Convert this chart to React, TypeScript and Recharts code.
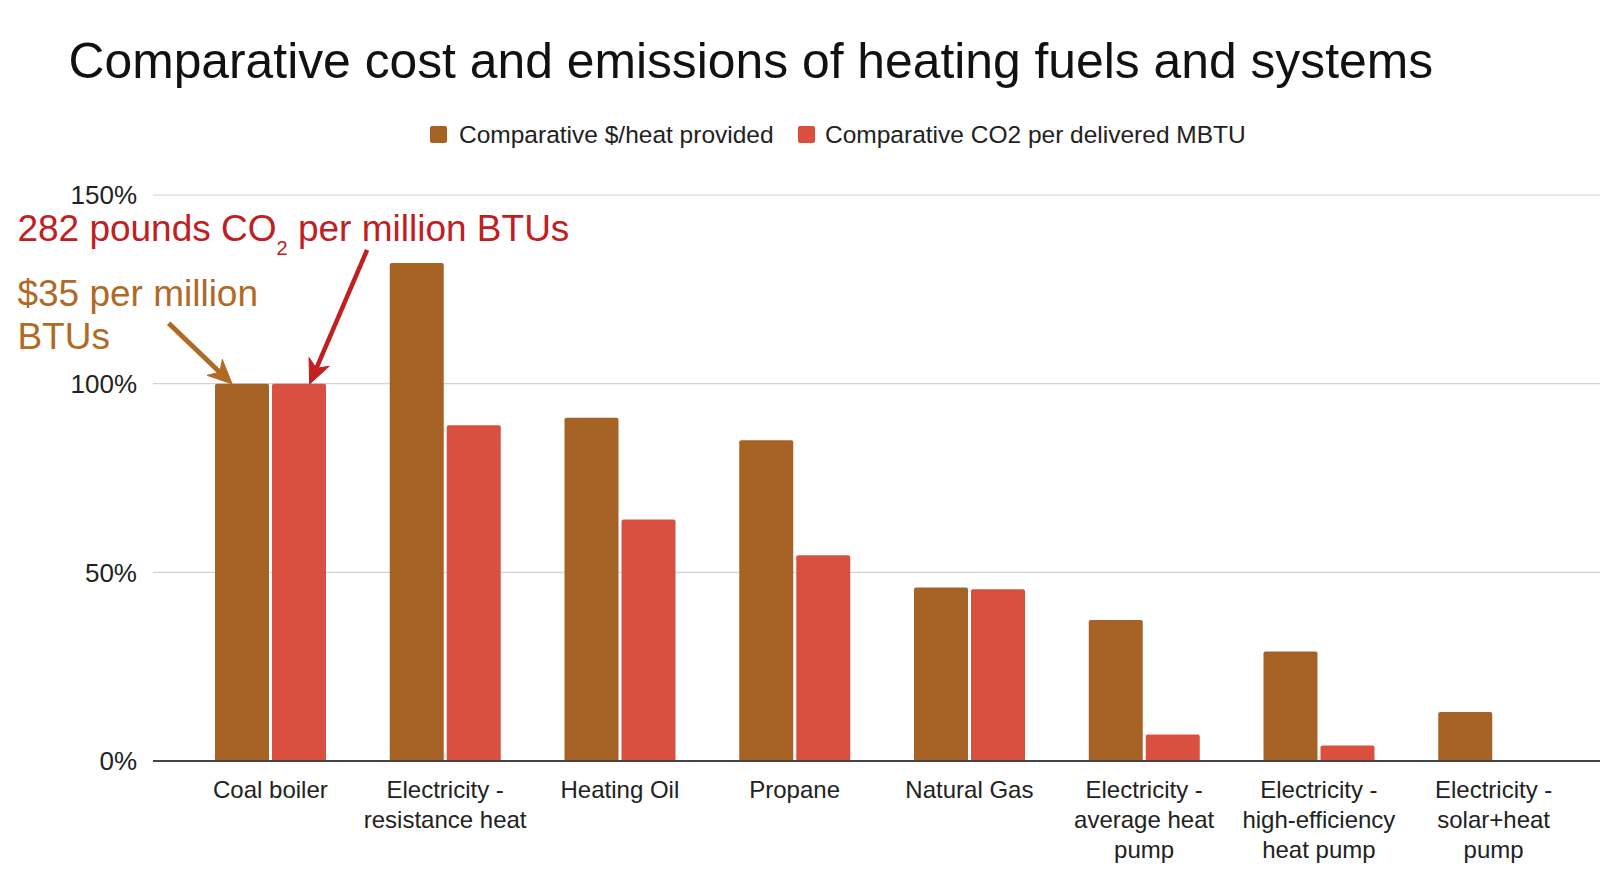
import React from 'react';
import { BarChart, Bar, XAxis, YAxis, CartesianGrid, ReferenceDot } from 'recharts';

const categories = [
  'Coal boiler',
  'Electricity - resistance heat',
  'Heating Oil',
  'Propane',
  'Natural Gas',
  'Electricity - average heat pump',
  'Electricity - high-efficiency heat pump',
  'Electricity - solar+heat pump',
];
const costValues = [1.0, 1.32, 0.91, 0.85, 0.46, 0.374, 0.29, 0.13];
const co2Values = [1.0, 0.89, 0.64, 0.545, 0.455, 0.07, 0.041, 0];
const yTicks = [0, 0.5, 1, 1.5];
const seriesKeys = ['cost', 'co2'];
const seriesNames = ['Comparative $/heat provided', 'Comparative CO2 per delivered MBTU'];
const seriesColors = ['#a66224', '#d95040'];
const titleText = 'Comparative cost and emissions of heating fuels and systems';
const co2Note = ['282 pounds CO', '2', ' per million BTUs'];
const costNote = ['$35 per million', 'BTUs'];
const noteCategory = 'Coal boiler';
const noteValue = 1;

const FONT = '"Liberation Sans", Arial, Helvetica, sans-serif';
const RED_TEXT = '#c0201f';
const BROWN_TEXT = '#b06a26';
const TICK_FONT_SIZE = 24;
const TICK_WRAP_WIDTH = 165;

const data = categories.map((name, i) => ({ name, cost: costValues[i], co2: co2Values[i] }));

let measureCtx: CanvasRenderingContext2D | null = null;
function measure(text: string): number {
  if (!measureCtx) {
    const c = document.createElement('canvas');
    measureCtx = c.getContext('2d');
  }
  if (!measureCtx) return text.length * TICK_FONT_SIZE * 0.5;
  measureCtx.font = `${TICK_FONT_SIZE}px "Liberation Sans", Arial, sans-serif`;
  return measureCtx.measureText(text).width;
}

function wrapLabel(label: string): string[] {
  const words = label.split(' ');
  const lines: string[] = [];
  let cur = '';
  words.forEach((w) => {
    const cand = cur ? `${cur} ${w}` : w;
    if (cur && measure(cand) > TICK_WRAP_WIDTH) {
      lines.push(cur);
      cur = w;
    } else {
      cur = cand;
    }
  });
  if (cur) lines.push(cur);
  return lines;
}

function Arrow({ x1, y1, x2, y2, color, width }: any) {
  const dx = x2 - x1;
  const dy = y2 - y1;
  const len = Math.hypot(dx, dy);
  const ux = dx / len;
  const uy = dy / len;
  const nx = -uy;
  const ny = ux;
  const L = 24;
  const W = 11;
  const N = 7;
  const bx = x2 - L * ux;
  const by = y2 - L * uy;
  const mx = x2 - (L - N) * ux;
  const my = y2 - (L - N) * uy;
  const pts = [
    [x2, y2],
    [bx + W * nx, by + W * ny],
    [mx, my],
    [bx - W * nx, by - W * ny],
  ]
    .map((p) => p.join(','))
    .join(' ');
  return (
    <g>
      <line x1={x1} y1={y1} x2={mx} y2={my} stroke={color} strokeWidth={width} strokeLinecap="butt" />
      <polygon points={pts} fill={color} stroke={color} strokeWidth={1} strokeLinejoin="miter" />
    </g>
  );
}

const Annotation = (props: any) => {
  const { cx, cy } = props;
  if (cx == null || cy == null || isNaN(cx) || isNaN(cy)) return <g />;
  return (
    <g>
      <text x={cx - 253} y={cy - 143} fill={RED_TEXT} fontSize={37} fontFamily={FONT}>
        {co2Note[0]}
        <tspan fontSize={20} dy={14}>{co2Note[1]}</tspan>
        <tspan dy={-14}>{co2Note[2]}</tspan>
      </text>
      <text x={cx - 253} y={cy - 78} fill={BROWN_TEXT} fontSize={37} fontFamily={FONT}>
        {costNote[0]}
      </text>
      <text x={cx - 253} y={cy - 35} fill={BROWN_TEXT} fontSize={37} fontFamily={FONT}>
        {costNote[1]}
      </text>
      <Arrow x1={cx - 101.7} y1={cy - 60.4} x2={cx - 38.3} y2={cy + 0.3} color="#b06a26" width={5} />
      <Arrow x1={cx + 96.7} y1={cy - 133.7} x2={cx + 39.3} y2={cy + 0.3} color="#c0201f" width={4.5} />
    </g>
  );
};

const CategoryTick = (props: any) => {
  const { x, y, payload } = props;
  const lines = wrapLabel(String(payload.value));
  return (
    <text
      x={x}
      y={y + 36.6}
      textAnchor="middle"
      fill="#222222"
      fontSize={TICK_FONT_SIZE}
      fontFamily={FONT}
    >
      {lines.map((ln, i) => (
        <tspan key={i} x={x} dy={i === 0 ? 0 : 30}>
          {ln}
        </tspan>
      ))}
    </text>
  );
};

export default function App() {
  return (
    <div style={{ position: 'absolute', left: 0, top: 0, width: 1600, height: 890, background: '#ffffff' }}>
      <BarChart
        width={1600}
        height={890}
        data={data}
        margin={{ top: 195, right: 0, bottom: 0, left: 0 }}
        barSize={54}
        barGap={3}
      >
        <CartesianGrid vertical={false} stroke="#d3d3d3" strokeWidth={1.2} />
        <XAxis
          dataKey="name"
          height={129}
          interval={0}
          padding={{ left: 30, right: 19 }}
          tickLine={false}
          tickSize={0}
          tickMargin={0}
          axisLine={{ stroke: '#444444', strokeWidth: 1.8 }}
          tick={<CategoryTick />}
        />
        <YAxis
          width={153}
          domain={[0, 1.5]}
          ticks={yTicks}
          interval={0}
          axisLine={false}
          tickLine={false}
          tickSize={0}
          tickMargin={16}
          tickFormatter={(v: number) => `${Math.round(v * 100)}%`}
          tick={{ fontSize: 26, fill: '#222222', fontFamily: FONT }}
        />
        {seriesKeys.map((k, i) => (
          <Bar
            key={k}
            dataKey={k}
            name={seriesNames[i]}
            fill={seriesColors[i]}
            radius={[2, 2, 0, 0]}
            isAnimationActive={false}
          />
        ))}
        <ReferenceDot
          x={noteCategory}
          y={noteValue}
          r={0}
          ifOverflow="visible"
          shape={(p: any) => <Annotation {...p} />}
        />
      </BarChart>
      <svg
        width={1600}
        height={890}
        style={{ position: 'absolute', left: 0, top: 0, pointerEvents: 'none' }}
      >
        <text x={68.5} y={78.3} fontSize={49.8} fontFamily={FONT} fill="#111111">
          {titleText}
        </text>
        <rect x={430} y={126} width={17} height={17} rx={2} fill={seriesColors[0]} />
        <text x={459} y={143.3} fontSize={24.5} fontFamily={FONT} fill="#222222">
          {seriesNames[0]}
        </text>
        <rect x={798} y={126} width={17} height={17} rx={2} fill={seriesColors[1]} />
        <text x={825} y={143.3} fontSize={24.5} fontFamily={FONT} fill="#222222">
          {seriesNames[1]}
        </text>
      </svg>
    </div>
  );
}
